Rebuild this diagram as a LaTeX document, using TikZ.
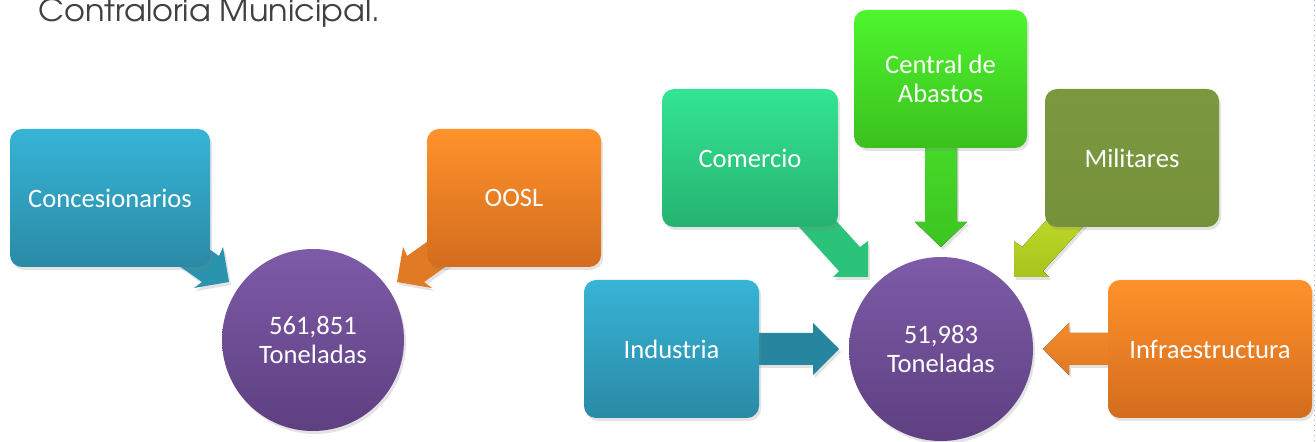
\documentclass[tikz,border=0pt]{standalone}
\usepackage{fontspec}
\usepackage{graphicx}
\setmainfont{Carlito}
\newfontfamily\titlefont{texgyreadventor-regular.otf}
\usetikzlibrary{shadows}
\definecolor{blueT}{HTML}{37B4D7}
\definecolor{blueB}{HTML}{2A8AA5}
\definecolor{blueA}{HTML}{2A93AE}
\definecolor{blueA2}{HTML}{27869F}
\definecolor{orT}{HTML}{FF922B}
\definecolor{orB}{HTML}{D36C1E}
\definecolor{orA}{HTML}{E07A24}
\definecolor{orA2}{HTML}{F58A28}
\definecolor{teT}{HTML}{33E593}
\definecolor{teB}{HTML}{26B271}
\definecolor{teA}{HTML}{2BC279}
\definecolor{grT}{HTML}{4EF62D}
\definecolor{grB}{HTML}{3BBF1E}
\definecolor{grA}{HTML}{46DA28}
\definecolor{grA2}{HTML}{3DC421}
\definecolor{olT}{HTML}{7B983F}
\definecolor{olB}{HTML}{76913B}
\definecolor{ylT}{HTML}{C2DD28}
\definecolor{ylB}{HTML}{A8C41E}
\definecolor{puT}{HTML}{7D5BA8}
\definecolor{puB}{HTML}{5E3F80}
\definecolor{titlegray}{HTML}{404040}
\definecolor{dotblue}{HTML}{8EC3D6}
\tikzset{
  shad/.style={drop shadow={shadow xshift=1pt, shadow yshift=-1.5pt, opacity=0.22}},
  box/.style={rounded corners=6pt, minimum height=69pt, text=white, align=center,
    font=\fontsize{13.3}{14.5}\selectfont, inner sep=2pt, shad},
  circ/.style={circle, text=white, align=center, inner sep=0pt,
    font=\fontsize{13.3}{14.5}\selectfont, top color=puT, bottom color=puB, shad},
}
\begin{document}
\begin{tikzpicture}[x=0.5pt,y=-0.5pt]
\useasboundingbox (0,0) rectangle (1316,442);
% title
\node[anchor=base west, inner sep=0pt, text=titlegray] (title) at (38,22)
  {\resizebox{171pt}{11.5pt}{\titlefont Contraloria Municipal.}};
\draw[dotted, dotblue, line width=0.5pt] (1314.5,0) -- (1314.5,442);
% block arrows (drawn below the boxes)
\fill[blueA, shad] (178,227) -- (219,256) -- (223,247) -- (229,282) -- (194,288) -- (202,282) -- (161,253) -- cycle;
\fill[orA, shad] (448,227) -- (407,256) -- (403,247) -- (397,282) -- (432,288) -- (424,282) -- (465,253) -- cycle;
\fill[teA, shad] (818,201) -- (860,247) -- (868,241) -- (868,277) -- (833,277) -- (839,271) -- (781,207) -- cycle;
\fill[top color=ylT, bottom color=ylB, shad] (1064,201) -- (1022,247) -- (1014,241) -- (1014,277) -- (1049,277) -- (1043,271) -- (1101,207) -- cycle;
\fill[top color=grA, bottom color=grA2, shad] (925,140) -- (925,222) -- (915,222) -- (941,247) -- (967,222) -- (957,222) -- (957,140) -- cycle;
\fill[blueA2, shad] (750,333) -- (813,333) -- (813,323) -- (839,349) -- (813,375) -- (813,365) -- (750,365) -- cycle;
\fill[top color=orA2, bottom color=orA, shad] (1115,333) -- (1069,333) -- (1069,323) -- (1043,349) -- (1069,375) -- (1069,365) -- (1115,365) -- cycle;
% boxes
\node[box, minimum width=100pt, top color=blueT, bottom color=blueB] (conc) at (110,198) {Concesionarios};
\node[box, minimum width=87pt, top color=orT, bottom color=orB] (oosl) at (514,198) {OOSL};
\node[box, minimum width=87.5pt, top color=blueT, bottom color=blueB] (ind) at (671.5,349) {Industria};
\node[box, minimum width=88pt, top color=teT, bottom color=teB] (com) at (750,158) {Comercio};
\node[box, minimum width=86.5pt, top color=grT, bottom color=grB] (cen) at (940.5,79) {Central de\\Abastos};
\node[box, minimum width=87pt, top color=olT, bottom color=olB] (mil) at (1132,158) {Militares};
\node[box, minimum width=102pt, top color=orT, bottom color=orB] (inf) at (1210,349) {Infraestructura};
% circles
\node[circ, minimum size=91pt] (c1) at (313,340) {561,851\\Toneladas};
\node[circ, minimum size=92pt] (c2) at (941,349) {51,983\\Toneladas};
\end{tikzpicture}
\end{document}
